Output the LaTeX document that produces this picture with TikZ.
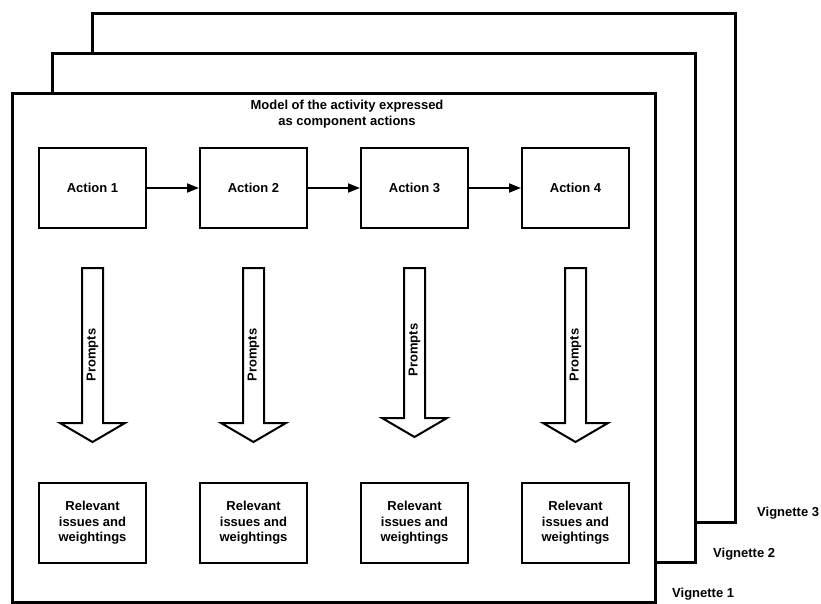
\documentclass[tikz,border=0pt]{standalone}
\usepackage{fontspec}
\setmainfont{Liberation Sans}
\usetikzlibrary{arrows.meta}
\begin{document}
\begin{tikzpicture}[x=1pt,y=-1pt,
  lbl/.style={font=\fontsize{13}{15.5}\selectfont\bfseries, align=center, inner sep=0pt},
  sheet/.style={draw=black, fill=white, line width=3pt},
  stepbox/.style={lbl, draw=black, line width=2pt, minimum width=107pt, minimum height=80pt},
  flow/.style={draw=black, line width=2pt, -{Triangle[length=12pt,width=9pt]}},
  prompt/.style={draw=black, fill=white, line width=2pt, line join=miter}
]
\useasboundingbox (0,0) rectangle (821,604);

% stacked vignette sheets, back to front
\draw[sheet] (92,14) rectangle (735,522);
\draw[sheet] (52,54) rectangle (695,562);
\draw[sheet] (12,94) rectangle (655,602);

\node[lbl, anchor=west] (v3) at (757,513) {Vignette 3};
\node[lbl, anchor=west] (v2) at (713,554) {Vignette 2};
\node[lbl, anchor=west] (v1) at (672,594) {Vignette 1};

\node[lbl] (title) at (347,114) {Model of the activity expressed\\as component actions};

% actions, prompt arrows and issue boxes
% (x of the column, y of the arrow-head shoulder)
\foreach \k/\hy in {1/423,2/423,3/418,4/423} {
  \pgfmathsetmacro{\cx}{92.5+161*(\k-1)}
  \node[stepbox] (a\k) at (\cx,188) {Action \k};
  \node[stepbox] (r\k) at (\cx,523) {Relevant\\issues and\\weightings};
  \draw[prompt] (\cx-10.5,268) -- (\cx+10.5,268) -- (\cx+10.5,\hy) -- (\cx+32.5,\hy)
     -- (\cx,\hy+19) -- (\cx-32.5,\hy) -- (\cx-10.5,\hy) -- cycle;
  \node[lbl, rotate=90] (p\k) at (\cx,\hy-68) {Prompts};
}

\draw[flow] (a1.east) -- (a2.west);
\draw[flow] (a2.east) -- (a3.west);
\draw[flow] (a3.east) -- (a4.west);
\end{tikzpicture}
\end{document}
